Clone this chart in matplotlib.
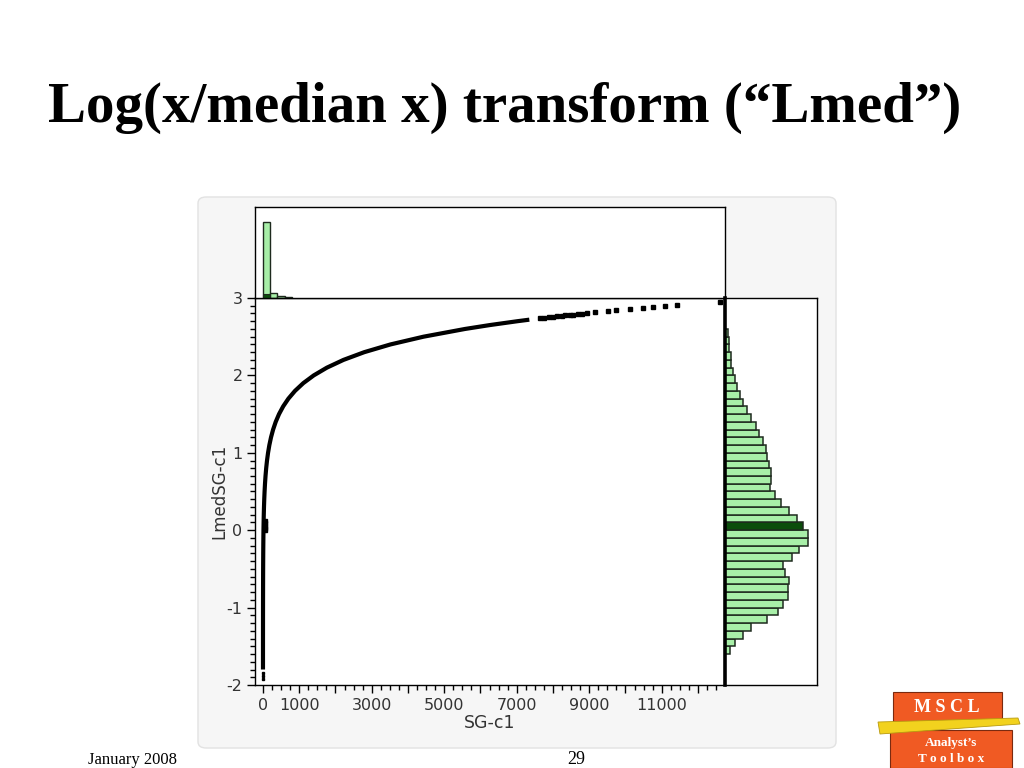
import numpy as np
import matplotlib
matplotlib.use("Agg")
import matplotlib.pyplot as plt
from matplotlib.patches import FancyBboxPatch, Rectangle, Polygon
from matplotlib.ticker import MultipleLocator, FixedLocator, FixedFormatter

plt.rcParams["axes.unicode_minus"] = False

# ---------------- data ----------------
MEDIAN_SG = 14.0  # median of SG-c1

# Lmed values along the dense part of the scatter curve
lmed_curve = [-1.8, -1.7, -1.6, -1.5, -1.4, -1.3, -1.2, -1.1, -1.0, -0.9, -0.8,
              -0.7, -0.6, -0.5, -0.4, -0.3, -0.2, -0.1, 0.0, 0.1, 0.2, 0.3,
              0.4, 0.5, 0.6, 0.7, 0.8, 0.9, 1.0, 1.1, 1.2, 1.3, 1.4, 1.5,
              1.6, 1.7, 1.8, 1.9, 2.0, 2.1, 2.2, 2.3, 2.4, 2.5, 2.6, 2.65, 2.7, 2.72]
# isolated low points
lmed_low = [-1.92, -1.88, -1.85]
# highlighted (selected) Lmed bin points
lmed_selected = [0.0, 0.03, 0.06, 0.09, 0.12]
# sparse SG-c1 values in the upper tail
sg_tail = [7650, 7740, 7880, 7990, 8100, 8250, 8330, 8470, 8560, 8700, 8800,
           8950, 9160, 9520, 9740, 10120, 10480, 10760, 11090, 11420, 12610]

# right histogram (LmedSG-c1), bins of 0.1 from -1.6 to 2.6 (bottom to top)
lmed_bin_edges_start = -1.6
lmed_bin_width = 0.1
lmed_counts = [5, 10, 18, 26, 42, 53, 58, 63, 63, 64, 60, 58, 67, 74, 83, 83,
               78, 72, 64, 56, 50, 45, 46, 46, 44, 42, 41, 38, 34, 31, 26, 22,
               18, 15, 12, 10, 8, 6, 6, 4, 4, 3]
selected_bin = 16  # bin 0.0-0.1 is highlighted

# top histogram (SG-c1), bins of 200
sg_bin_width = 200
sg_counts = [76, 5, 2, 1]
sg_selected_counts = [3.5, 0, 0, 0]

# ---------------- figure ----------------
W, H = 1024, 768
fig = plt.figure(figsize=(W / 100, H / 100), dpi=100)
fig.patch.set_facecolor("white")

def fx(px):
    return px / W

def fy(py):
    return 1 - py / H

# panel background
bg = FancyBboxPatch((fx(198), fy(748)), fx(836) - fx(198), fy(197) - fy(748),
                    boxstyle="round,pad=0,rounding_size=0.008",
                    transform=fig.transFigure, facecolor="#f6f6f6",
                    edgecolor="#e2e2e2", linewidth=1.0, zorder=-5)
fig.patches.append(bg)

# title
fig.text(fx(48), fy(122), "Log(x/median x) transform (\u201cLmed\u201d)",
         family="Liberation Serif", fontweight="bold", fontsize=41,
         ha="left", va="baseline", color="black")

# footer
fig.text(fx(88), fy(752), "January 2008", family="Liberation Serif",
         fontsize=12, ha="left", va="top")
fig.text(fx(576), fy(751), "29", family="Liberation Serif",
         fontsize=13, ha="center", va="top")

LIGHT = "#a8efa8"
DARK = "#0b4d0b"
EDGE = "#1e2a1e"

left, right = 255, 725
top_main, bot_main = 298, 685
xlim = (-220, 12745)

# main scatter axes
ax = fig.add_axes([fx(left), fy(bot_main), fx(right) - fx(left), fy(top_main) - fy(bot_main)])
ax.set_facecolor("white")
xc = [MEDIAN_SG * 10 ** v for v in lmed_curve]
ax.plot(xc, lmed_curve, color="black", lw=3.0, solid_capstyle="butt", zorder=3)
ax.plot([MEDIAN_SG * 10 ** v for v in lmed_low], lmed_low, "s", color="black",
        ms=2.0, zorder=3)
ax.plot([MEDIAN_SG * 10 ** v + 50 for v in lmed_selected], lmed_selected, "s",
        color="black", ms=3.0, zorder=3)
ax.plot(sg_tail, [np.log10(v / MEDIAN_SG) for v in sg_tail], "s", color="black",
        ms=2.6, zorder=3)
ax.set_xlim(*xlim)
ax.set_ylim(-2, 3)
for s in ax.spines.values():
    s.set_linewidth(1.0)
    s.set_color("black")
ax.spines["right"].set_visible(False)
ax.xaxis.set_major_locator(FixedLocator(list(range(0, 13000, 1000))))
xt_labels = ["0" if v == 0 else (str(v) if (v // 1000) % 2 == 1 else "") for v in range(0, 13000, 1000)]
ax.xaxis.set_major_formatter(FixedFormatter(xt_labels))
ax.xaxis.set_minor_locator(MultipleLocator(250))
ax.yaxis.set_major_locator(MultipleLocator(1))
ax.yaxis.set_minor_locator(MultipleLocator(0.1))
ax.tick_params(axis="both", which="major", length=6, width=1.0, color="black",
               labelsize=11.5, labelcolor="#333333", direction="out", pad=3)
ax.tick_params(axis="both", which="minor", length=3.5, width=1.0, color="black",
               direction="out")
ax.set_xlabel("SG-c1", fontsize=12.5, color="#333333", labelpad=1)
ax.set_ylabel("LmedSG-c1", fontsize=12, color="#333333", labelpad=-1.5)

# top histogram
axt = fig.add_axes([fx(left), fy(top_main), fx(right) - fx(left), fy(207) - fy(top_main)])
sg_edges = [i * sg_bin_width for i in range(len(sg_counts))]
axt.bar(sg_edges, sg_counts, width=sg_bin_width, align="edge", color=LIGHT,
        edgecolor=EDGE, linewidth=1.0)
axt.bar(sg_edges, sg_selected_counts, width=sg_bin_width, align="edge",
        color=DARK, edgecolor=EDGE, linewidth=0.8)
axt.set_xlim(*xlim)
axt.set_ylim(0, 91)
axt.set_xticks([])
axt.set_yticks([])
for s in axt.spines.values():
    s.set_linewidth(1.0)

# right histogram
axr = fig.add_axes([fx(right), fy(bot_main), fx(817) - fx(right), fy(top_main) - fy(bot_main)])
lmed_edges = [lmed_bin_edges_start + i * lmed_bin_width for i in range(len(lmed_counts))]
colors = [DARK if i == selected_bin else LIGHT for i in range(len(lmed_counts))]
axr.barh(lmed_edges, lmed_counts, height=lmed_bin_width, align="edge",
         color=colors, edgecolor=EDGE, linewidth=1.1)
axr.set_ylim(-2, 3)
axr.set_xlim(0, 92)
axr.set_xticks([])
axr.set_yticks([])
for s in axr.spines.values():
    s.set_linewidth(1.0)
axr.spines["left"].set_linewidth(2.6)

# logo (MSCL Analyst's Toolbox)
ORANGE = "#f05a23"
fig.patches.append(Rectangle((fx(893), fy(723)), fx(1002) - fx(893), fy(692) - fy(723),
                             transform=fig.transFigure, facecolor=ORANGE,
                             edgecolor="#7a2a10", linewidth=0.8, zorder=2))
fig.patches.append(Rectangle((fx(890), fy(768)), fx(1012) - fx(890), fy(730) - fy(768),
                             transform=fig.transFigure, facecolor=ORANGE,
                             edgecolor="#7a2a10", linewidth=0.8, zorder=2))
fig.patches.append(Polygon([(fx(878), fy(722)), (fx(1018), fy(718)),
                            (fx(1020), fy(724)), (fx(880), fy(734))],
                           closed=True, transform=fig.transFigure,
                           facecolor="#f2d21e", edgecolor="#b89a10",
                           linewidth=0.6, zorder=3))
fig.text(fx(947), fy(708), "M S C L", family="Liberation Serif", fontweight="bold",
         fontsize=13, color="white", ha="center", va="center", zorder=4)
fig.text(fx(951), fy(743), "Analyst\u2019s", family="Liberation Serif", fontweight="bold",
         fontsize=9.5, color="white", ha="center", va="center", zorder=4)
fig.text(fx(951), fy(759), "T o o l b o x", family="Liberation Serif", fontweight="bold",
         fontsize=9.5, color="white", ha="center", va="center", zorder=4)

fig.savefig("out.png", dpi=100, facecolor="white")
